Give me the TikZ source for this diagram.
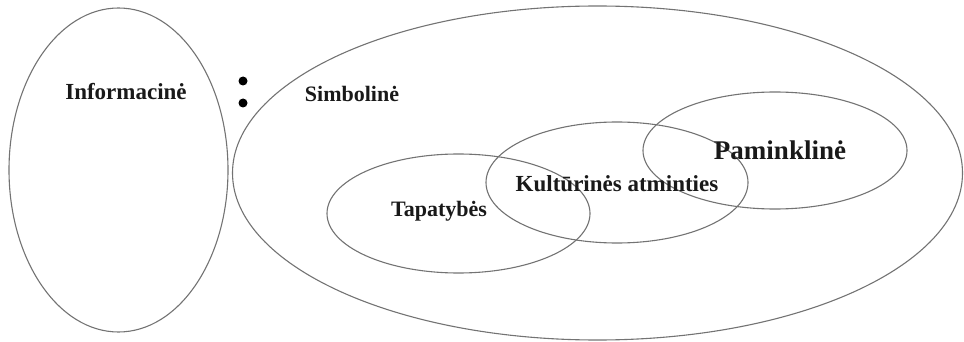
\documentclass[tikz,border=0pt]{standalone}
\usepackage{fontspec}
\setmainfont{Liberation Serif}
\usetikzlibrary{shapes.geometric}
\tikzset{
  ring/.style={draw=black!55, line width=1.1pt, ellipse, inner sep=0pt},
  lbl/.style={font=\fontsize{22}{24}\selectfont\bfseries, text=black!90, inner sep=0pt},
  lblbig/.style={font=\fontsize{23}{25}\selectfont\bfseries, text=black!90, inner sep=0pt},
  dotmark/.style={circle, fill=black, inner sep=0pt, minimum size=9pt}
}
\begin{document}
\begin{tikzpicture}[x=1pt,y=-1pt]
\useasboundingbox (0,0) rectangle (964,342);
\node[ring, minimum width=219pt, minimum height=324pt] (info) at (118.5,170) {};
\node[ring, minimum width=730pt, minimum height=334pt] (simb) at (597.5,173) {};
\node[ring, minimum width=263pt, minimum height=119pt] (tap) at (458.5,213.5) {};
\node[ring, minimum width=262pt, minimum height=121pt] (kult) at (617,182.5) {};
\node[ring, minimum width=264pt, minimum height=117pt] (pam) at (775,150.5) {};
\node[lblbig] (tinfo) at (126,92) {Informacinė};
\node[lbl] (tsimb) at (352,94) {Simbolinė};
\node[lbl] (ttap) at (439,211) {Tapatybės};
\node[lblbig] (tkult) at (617,184) {Kultūrinės atminties};
\node[lbl, font=\fontsize{27}{30}\selectfont\bfseries] (tpam) at (780,150) {Paminklinė};
\node[dotmark] (d1) at (243,81) {};
\node[dotmark] (d2) at (243,103) {};
\end{tikzpicture}
\end{document}
